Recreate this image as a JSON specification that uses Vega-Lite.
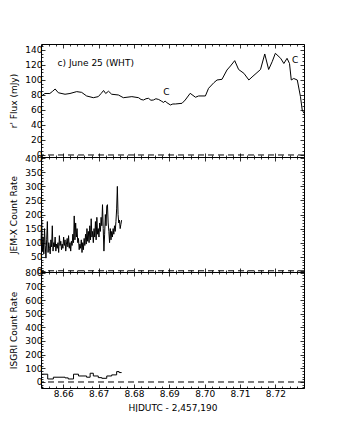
{
  "$schema": "https://vega.github.io/schema/vega-lite/v6.json",
  "autosize": {"type": "pad"},
  "padding": {"left": 9, "top": 42, "right": 0, "bottom": 0},
  "spacing": 0,
  "bounds": "flush",
  "config": {
    "font": "DejaVu Sans",
    "view": {"stroke": null},
    "axis": {"domainColor": "black", "domainWidth": 1, "tickColor": "black", "tickWidth": 0.8, "labelFont": "DejaVu Sans", "labelFontSize": 9, "labelColor": "black", "titleFont": "DejaVu Sans", "titleFontSize": 9, "titleFontWeight": "normal", "titleColor": "black", "grid": false, "labelOverlap": false, "labelFlush": false, "labelBound": false}
  },
  "datasets": {
    "optical": [
      {"t": 8.6537, "flux": 78}, {"t": 8.6548, "flux": 82}, {"t": 8.6562, "flux": 82}, {"t": 8.6570, "flux": 85}, {"t": 8.6577, "flux": 88}, {"t": 8.6586, "flux": 83}, {"t": 8.6605, "flux": 81}, {"t": 8.6619, "flux": 82}, {"t": 8.6638, "flux": 84.5}, {"t": 8.6652, "flux": 83.5}, {"t": 8.6666, "flux": 78.7}, {"t": 8.6685, "flux": 76.4}, {"t": 8.6699, "flux": 77.8}, {"t": 8.6707, "flux": 82}, {"t": 8.6714, "flux": 86}, {"t": 8.6720, "flux": 82}, {"t": 8.6728, "flux": 85}, {"t": 8.6737, "flux": 81}, {"t": 8.6756, "flux": 80}, {"t": 8.6770, "flux": 76.4}, {"t": 8.6794, "flux": 77.8}, {"t": 8.6813, "flux": 76.4}, {"t": 8.6820, "flux": 74}, {"t": 8.6827, "flux": 73.3}, {"t": 8.6834, "flux": 75}, {"t": 8.6841, "flux": 75.6}, {"t": 8.6848, "flux": 73}, {"t": 8.6855, "flux": 73.3}, {"t": 8.6862, "flux": 75}, {"t": 8.6870, "flux": 74}, {"t": 8.6877, "flux": 72}, {"t": 8.6884, "flux": 70}, {"t": 8.6888, "flux": 72}, {"t": 8.6893, "flux": 69.8}, {"t": 8.6903, "flux": 66.7}, {"t": 8.6910, "flux": 68}, {"t": 8.6917, "flux": 68}, {"t": 8.6936, "flux": 68.9}, {"t": 8.6945, "flux": 73.3}, {"t": 8.6959, "flux": 82.2}, {"t": 8.6974, "flux": 77}, {"t": 8.6983, "flux": 78.7}, {"t": 8.7002, "flux": 78.7}, {"t": 8.7011, "flux": 88.9}, {"t": 8.7026, "flux": 96.4}, {"t": 8.7035, "flux": 100}, {"t": 8.7049, "flux": 100.9}, {"t": 8.7063, "flux": 113.3}, {"t": 8.7073, "flux": 118.7}, {"t": 8.7085, "flux": 125.8}, {"t": 8.7096, "flux": 114}, {"t": 8.7111, "flux": 108.9}, {"t": 8.7125, "flux": 100}, {"t": 8.7134, "flux": 104}, {"t": 8.7148, "flux": 109.8}, {"t": 8.7158, "flux": 114}, {"t": 8.7170, "flux": 134.7}, {"t": 8.7181, "flux": 114}, {"t": 8.7191, "flux": 124.4}, {"t": 8.7200, "flux": 135.6}, {"t": 8.7215, "flux": 128.9}, {"t": 8.7224, "flux": 122}, {"t": 8.7233, "flux": 128.9}, {"t": 8.7240, "flux": 122}, {"t": 8.7245, "flux": 100}, {"t": 8.7252, "flux": 102}, {"t": 8.7262, "flux": 100}, {"t": 8.7271, "flux": 77.8}, {"t": 8.7276, "flux": 60}, {"t": 8.7281, "flux": 55.6}
    ],
    "notes": [
      {"t": 8.6584, "v": 122, "label": "c) June 25 (WHT)"},
      {"t": 8.6883, "v": 83.6, "label": "C"},
      {"t": 8.7247, "v": 126.7, "label": "C"}
    ],
    "jemx": [
      {"t": 8.6537, "rate": 95}, {"t": 8.6539, "rate": 180}, {"t": 8.6541, "rate": 70}, {"t": 8.6543, "rate": 120}, {"t": 8.6545, "rate": 60}, {"t": 8.6547, "rate": 150}, {"t": 8.6549, "rate": 90}, {"t": 8.6551, "rate": 45}, {"t": 8.6553, "rate": 110}, {"t": 8.6555, "rate": 175}, {"t": 8.6557, "rate": 65}, {"t": 8.6559, "rate": 100}, {"t": 8.6561, "rate": 80}, {"t": 8.6563, "rate": 60}, {"t": 8.6565, "rate": 110}, {"t": 8.6567, "rate": 85}, {"t": 8.6569, "rate": 160}, {"t": 8.6571, "rate": 70}, {"t": 8.6573, "rate": 100}, {"t": 8.6575, "rate": 85}, {"t": 8.6577, "rate": 120}, {"t": 8.6579, "rate": 70}, {"t": 8.6581, "rate": 95}, {"t": 8.6583, "rate": 80}, {"t": 8.6585, "rate": 100}, {"t": 8.6587, "rate": 65}, {"t": 8.6589, "rate": 125}, {"t": 8.6591, "rate": 90}, {"t": 8.6593, "rate": 105}, {"t": 8.6595, "rate": 75}, {"t": 8.6597, "rate": 95}, {"t": 8.6599, "rate": 80}, {"t": 8.6601, "rate": 120}, {"t": 8.6603, "rate": 90}, {"t": 8.6605, "rate": 110}, {"t": 8.6607, "rate": 70}, {"t": 8.6609, "rate": 95}, {"t": 8.6611, "rate": 115}, {"t": 8.6613, "rate": 85}, {"t": 8.6615, "rate": 125}, {"t": 8.6617, "rate": 80}, {"t": 8.6619, "rate": 100}, {"t": 8.6621, "rate": 70}, {"t": 8.6623, "rate": 105}, {"t": 8.6625, "rate": 90}, {"t": 8.6627, "rate": 130}, {"t": 8.6629, "rate": 100}, {"t": 8.6631, "rate": 195}, {"t": 8.6633, "rate": 110}, {"t": 8.6635, "rate": 170}, {"t": 8.6637, "rate": 120}, {"t": 8.6639, "rate": 150}, {"t": 8.6641, "rate": 100}, {"t": 8.6643, "rate": 115}, {"t": 8.6645, "rate": 75}, {"t": 8.6647, "rate": 95}, {"t": 8.6649, "rate": 80}, {"t": 8.6651, "rate": 110}, {"t": 8.6653, "rate": 65}, {"t": 8.6655, "rate": 100}, {"t": 8.6657, "rate": 75}, {"t": 8.6659, "rate": 115}, {"t": 8.6661, "rate": 90}, {"t": 8.6663, "rate": 130}, {"t": 8.6665, "rate": 95}, {"t": 8.6667, "rate": 150}, {"t": 8.6669, "rate": 105}, {"t": 8.6671, "rate": 140}, {"t": 8.6673, "rate": 100}, {"t": 8.6675, "rate": 160}, {"t": 8.6677, "rate": 110}, {"t": 8.6679, "rate": 185}, {"t": 8.6681, "rate": 120}, {"t": 8.6683, "rate": 140}, {"t": 8.6685, "rate": 100}, {"t": 8.6687, "rate": 150}, {"t": 8.6689, "rate": 120}, {"t": 8.6691, "rate": 175}, {"t": 8.6693, "rate": 110}, {"t": 8.6695, "rate": 190}, {"t": 8.6697, "rate": 130}, {"t": 8.6699, "rate": 150}, {"t": 8.6701, "rate": 120}, {"t": 8.6703, "rate": 170}, {"t": 8.6705, "rate": 140}, {"t": 8.6707, "rate": 190}, {"t": 8.6709, "rate": 160}, {"t": 8.6711, "rate": 235}, {"t": 8.6713, "rate": 150}, {"t": 8.6715, "rate": 70}, {"t": 8.6717, "rate": 130}, {"t": 8.6719, "rate": 200}, {"t": 8.6721, "rate": 160}, {"t": 8.6723, "rate": 230}, {"t": 8.6725, "rate": 235}, {"t": 8.6727, "rate": 170}, {"t": 8.6729, "rate": 140}, {"t": 8.6731, "rate": 100}, {"t": 8.6733, "rate": 150}, {"t": 8.6735, "rate": 110}, {"t": 8.6737, "rate": 140}, {"t": 8.6739, "rate": 120}, {"t": 8.6741, "rate": 150}, {"t": 8.6743, "rate": 130}, {"t": 8.6745, "rate": 160}, {"t": 8.6747, "rate": 140}, {"t": 8.6749, "rate": 175}, {"t": 8.6751, "rate": 220}, {"t": 8.6753, "rate": 300}, {"t": 8.6755, "rate": 200}, {"t": 8.6757, "rate": 170}, {"t": 8.6759, "rate": 180}, {"t": 8.6761, "rate": 150}, {"t": 8.6763, "rate": 165}, {"t": 8.6765, "rate": 180}
    ],
    "isgri": [
      {"t": 8.6537, "rate": 57}, {"t": 8.6556, "rate": 22}, {"t": 8.6572, "rate": 35}, {"t": 8.6605, "rate": 30}, {"t": 8.6614, "rate": 22}, {"t": 8.6629, "rate": 57}, {"t": 8.6643, "rate": 44}, {"t": 8.6666, "rate": 35}, {"t": 8.6676, "rate": 64}, {"t": 8.6685, "rate": 44}, {"t": 8.6699, "rate": 32}, {"t": 8.6709, "rate": 27}, {"t": 8.6723, "rate": 44}, {"t": 8.6737, "rate": 52}, {"t": 8.6751, "rate": 76}, {"t": 8.6758, "rate": 69}, {"t": 8.6765, "rate": 69}
    ]
  },
  "vconcat": [
    {
      "width": 263, "height": 113,
      "layer": [
        {
          "data": {"name": "optical"},
          "mark": {"type": "line", "color": "black", "strokeWidth": 1},
          "encoding": {
            "x": {"field": "t", "type": "quantitative", "scale": {"domain": [8.6537, 8.7281], "nice": false, "zero": false},
              "axis": {"orient": "bottom", "values": [8.654,8.656,8.658,8.66,8.662,8.664,8.666,8.668,8.67,8.672,8.674,8.676,8.678,8.68,8.682,8.684,8.686,8.688,8.69,8.692,8.694,8.696,8.698,8.7,8.702,8.704,8.706,8.708,8.71,8.712,8.714,8.716,8.718,8.72,8.722,8.724,8.726,8.728], "tickSize": {"condition": {"test": "abs(datum.value*100-round(datum.value*100))<1e-6", "value": -4}, "value": -2}, "labels": false, "title": null}},
            "y": {"field": "flux", "type": "quantitative", "scale": {"domain": [-2.7, 148], "nice": false, "zero": false},
              "axis": {"orient": "left", "values": [0,5,10,15,20,25,30,35,40,45,50,55,60,65,70,75,80,85,90,95,100,105,110,115,120,125,130,135,140,145], "tickSize": {"condition": {"test": "datum.value % 20 === 0", "value": -4}, "value": -2}, "labelExpr": "datum.value % 20 === 0 ? '' + datum.value : ''", "labelPadding": 3, "title": "r' Flux (mJy)", "titlePadding": 6}}
          }
        },
        {
          "data": {"name": "optical"},
          "mark": {"type": "point", "opacity": 0, "size": 1},
          "encoding": {
            "x": {"field": "t", "type": "quantitative", "scale": {"domain": [8.6537, 8.7281], "nice": false, "zero": false},
              "axis": {"orient": "top", "values": [8.654,8.656,8.658,8.66,8.662,8.664,8.666,8.668,8.67,8.672,8.674,8.676,8.678,8.68,8.682,8.684,8.686,8.688,8.69,8.692,8.694,8.696,8.698,8.7,8.702,8.704,8.706,8.708,8.71,8.712,8.714,8.716,8.718,8.72,8.722,8.724,8.726,8.728], "tickSize": {"condition": {"test": "abs(datum.value*100-round(datum.value*100))<1e-6", "value": -4}, "value": -2}, "labels": false, "title": null}},
            "y": {"field": "flux", "type": "quantitative", "scale": {"domain": [-2.7, 148], "nice": false, "zero": false},
              "axis": {"orient": "right", "values": [0,5,10,15,20,25,30,35,40,45,50,55,60,65,70,75,80,85,90,95,100,105,110,115,120,125,130,135,140,145], "tickSize": {"condition": {"test": "datum.value % 20 === 0", "value": -4}, "value": -2}, "labels": false, "title": null}}
          }
        },
        {
          "data": {"values": [{}]},
          "mark": {"type": "rule", "color": "black", "strokeDash": [6, 4], "strokeWidth": 1},
          "encoding": {"y": {"datum": 0, "type": "quantitative", "scale": {"domain": [-2.7, 148], "nice": false, "zero": false}, "axis": null}}
        },
        {
          "data": {"name": "notes"},
          "mark": {"type": "text", "align": "left", "baseline": "middle", "fontSize": 9, "font": "DejaVu Sans", "color": "black"},
          "encoding": {
            "x": {"field": "t", "type": "quantitative", "scale": {"domain": [8.6537, 8.7281], "nice": false, "zero": false}, "axis": null},
            "y": {"field": "v", "type": "quantitative", "scale": {"domain": [-2.7, 148], "nice": false, "zero": false}, "axis": null},
            "text": {"field": "label"}
          }
        }
      ],
      "resolve": {"axis": {"x": "independent", "y": "independent"}}
    },
    {
      "width": 263, "height": 115,
      "layer": [
        {
          "data": {"name": "jemx"},
          "mark": {"type": "line", "color": "black", "strokeWidth": 1},
          "encoding": {
            "x": {"field": "t", "type": "quantitative", "scale": {"domain": [8.6537, 8.7281], "nice": false, "zero": false},
              "axis": {"orient": "bottom", "values": [8.654,8.656,8.658,8.66,8.662,8.664,8.666,8.668,8.67,8.672,8.674,8.676,8.678,8.68,8.682,8.684,8.686,8.688,8.69,8.692,8.694,8.696,8.698,8.7,8.702,8.704,8.706,8.708,8.71,8.712,8.714,8.716,8.718,8.72,8.722,8.724,8.726,8.728], "tickSize": {"condition": {"test": "abs(datum.value*100-round(datum.value*100))<1e-6", "value": -4}, "value": -2}, "labels": false, "title": null}},
            "y": {"field": "rate", "type": "quantitative", "scale": {"domain": [-4.3, 404.5], "nice": false, "zero": false},
              "axis": {"orient": "left", "values": [0,10,20,30,40,50,60,70,80,90,100,110,120,130,140,150,160,170,180,190,200,210,220,230,240,250,260,270,280,290,300,310,320,330,340,350,360,370,380,390,400], "tickSize": {"condition": {"test": "datum.value % 50 === 0", "value": -4}, "value": -2}, "labelExpr": "datum.value % 50 === 0 ? '' + datum.value : ''", "labelPadding": 3, "title": "JEM-X Count Rate", "titlePadding": 6}}
          }
        },
        {
          "data": {"name": "jemx"},
          "mark": {"type": "point", "opacity": 0, "size": 1},
          "encoding": {
            "x": {"field": "t", "type": "quantitative", "scale": {"domain": [8.6537, 8.7281], "nice": false, "zero": false},
              "axis": {"orient": "top", "values": [8.654,8.656,8.658,8.66,8.662,8.664,8.666,8.668,8.67,8.672,8.674,8.676,8.678,8.68,8.682,8.684,8.686,8.688,8.69,8.692,8.694,8.696,8.698,8.7,8.702,8.704,8.706,8.708,8.71,8.712,8.714,8.716,8.718,8.72,8.722,8.724,8.726,8.728], "tickSize": {"condition": {"test": "abs(datum.value*100-round(datum.value*100))<1e-6", "value": -4}, "value": -2}, "labels": false, "title": null}},
            "y": {"field": "rate", "type": "quantitative", "scale": {"domain": [-4.3, 404.5], "nice": false, "zero": false},
              "axis": {"orient": "right", "values": [0,10,20,30,40,50,60,70,80,90,100,110,120,130,140,150,160,170,180,190,200,210,220,230,240,250,260,270,280,290,300,310,320,330,340,350,360,370,380,390,400], "tickSize": {"condition": {"test": "datum.value % 50 === 0", "value": -4}, "value": -2}, "labels": false, "title": null}}
          }
        },
        {
          "data": {"values": [{}]},
          "mark": {"type": "rule", "color": "black", "strokeDash": [6, 4], "strokeWidth": 1},
          "encoding": {"y": {"datum": 0, "type": "quantitative", "scale": {"domain": [-4.3, 404.5], "nice": false, "zero": false}, "axis": null}}
        }
      ],
      "resolve": {"axis": {"x": "independent", "y": "independent"}}
    },
    {
      "width": 263, "height": 116,
      "layer": [
        {
          "data": {"name": "isgri"},
          "mark": {"type": "line", "color": "black", "strokeWidth": 1, "interpolate": "step-after"},
          "encoding": {
            "x": {"field": "t", "type": "quantitative", "scale": {"domain": [8.6537, 8.7281], "nice": false, "zero": false},
              "axis": {"orient": "bottom", "values": [8.654,8.656,8.658,8.66,8.662,8.664,8.666,8.668,8.67,8.672,8.674,8.676,8.678,8.68,8.682,8.684,8.686,8.688,8.69,8.692,8.694,8.696,8.698,8.7,8.702,8.704,8.706,8.708,8.71,8.712,8.714,8.716,8.718,8.72,8.722,8.724,8.726,8.728], "tickSize": {"condition": {"test": "abs(datum.value*100-round(datum.value*100))<1e-6", "value": -4}, "value": -2}, "labelExpr": "abs(datum.value*100-round(datum.value*100))<1e-6 ? format(datum.value, '.2f') : ''", "labelPadding": 5, "title": "HJDUTC - 2,457,190", "titlePadding": 3}},
            "y": {"field": "rate", "type": "quantitative", "scale": {"domain": [-44, 805], "nice": false, "zero": false},
              "axis": {"orient": "left", "values": [-40,-20,0,20,40,60,80,100,120,140,160,180,200,220,240,260,280,300,320,340,360,380,400,420,440,460,480,500,520,540,560,580,600,620,640,660,680,700,720,740,760,780,800], "tickSize": {"condition": {"test": "datum.value % 100 === 0", "value": -4}, "value": -2}, "labelExpr": "datum.value % 100 === 0 ? '' + datum.value : ''", "labelPadding": 3, "title": "ISGRI Count Rate", "titlePadding": 6}}
          }
        },
        {
          "data": {"name": "isgri"},
          "mark": {"type": "point", "opacity": 0, "size": 1},
          "encoding": {
            "x": {"field": "t", "type": "quantitative", "scale": {"domain": [8.6537, 8.7281], "nice": false, "zero": false},
              "axis": {"orient": "top", "values": [8.654,8.656,8.658,8.66,8.662,8.664,8.666,8.668,8.67,8.672,8.674,8.676,8.678,8.68,8.682,8.684,8.686,8.688,8.69,8.692,8.694,8.696,8.698,8.7,8.702,8.704,8.706,8.708,8.71,8.712,8.714,8.716,8.718,8.72,8.722,8.724,8.726,8.728], "tickSize": {"condition": {"test": "abs(datum.value*100-round(datum.value*100))<1e-6", "value": -4}, "value": -2}, "labels": false, "title": null}},
            "y": {"field": "rate", "type": "quantitative", "scale": {"domain": [-44, 805], "nice": false, "zero": false},
              "axis": {"orient": "right", "values": [-40,-20,0,20,40,60,80,100,120,140,160,180,200,220,240,260,280,300,320,340,360,380,400,420,440,460,480,500,520,540,560,580,600,620,640,660,680,700,720,740,760,780,800], "tickSize": {"condition": {"test": "datum.value % 100 === 0", "value": -4}, "value": -2}, "labels": false, "title": null}}
          }
        },
        {
          "data": {"values": [{}]},
          "mark": {"type": "rule", "color": "black", "strokeDash": [6, 4], "strokeWidth": 1},
          "encoding": {"y": {"datum": 0, "type": "quantitative", "scale": {"domain": [-44, 805], "nice": false, "zero": false}, "axis": null}}
        }
      ],
      "resolve": {"axis": {"x": "independent", "y": "independent"}}
    }
  ]
}
